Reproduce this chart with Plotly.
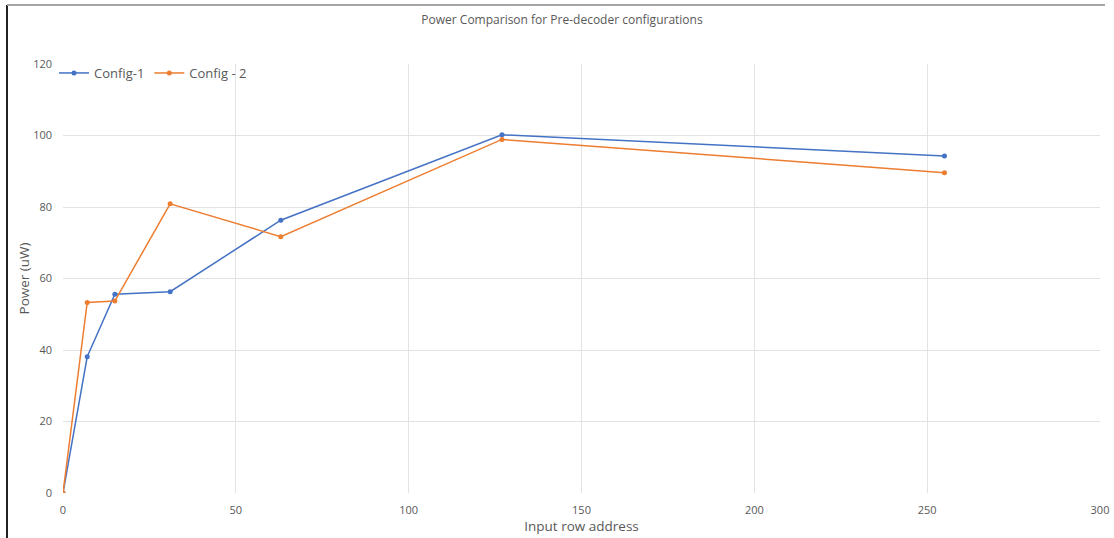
import plotly.graph_objects as go

# Input row address values and measured power (uW)
row_address = [0, 7, 15, 31, 63, 127, 255]
config1_power = [0, 38.1, 55.6, 56.3, 76.3, 100.2, 94.3]
config2_power = [0, 53.3, 53.7, 80.9, 71.7, 98.9, 89.6]

x_ticks = [0, 50, 100, 150, 200, 250, 300]
y_ticks = [0, 20, 40, 60, 80, 100, 120]

W, H = 1114, 538
M_L, M_R, M_T, M_B = 63, 14, 64, 45
FONT = "Open Sans, Calibri, sans-serif"
TEXT_GRAY = "#595959"
GRID = "#e3e3e3"

fig = go.Figure()
fig.add_trace(go.Scatter(
    x=row_address, y=config1_power, name="Config-1",
    mode="lines+markers",
    line=dict(color="#4472C4", width=1.5),
    marker=dict(size=5, color="#4472C4"),
))
fig.add_trace(go.Scatter(
    x=row_address, y=config2_power, name="Config - 2",
    mode="lines+markers",
    line=dict(color="#ED7D31", width=1.5),
    marker=dict(size=5, color="#ED7D31"),
))

pw = W - M_L - M_R
ph = H - M_T - M_B

def px_x(p):
    return (p - M_L) / pw

def px_y(p):
    return (H - M_B - p) / ph

# Outer frame edges: dark left edge and light top edge
fig.add_shape(type="line", xref="paper", yref="paper",
              x0=px_x(7), x1=px_x(7), y0=px_y(5), y1=px_y(540),
              line=dict(color="#222222", width=2))
fig.add_shape(type="line", xref="paper", yref="paper",
              x0=px_x(7), x1=px_x(1105), y0=px_y(5), y1=px_y(5),
              line=dict(color="#a6a6a6", width=2))

fig.update_layout(
    width=W, height=H,
    margin=dict(l=M_L, r=M_R, t=M_T, b=M_B, pad=0, autoexpand=False),
    paper_bgcolor="white", plot_bgcolor="white",
    font=dict(family=FONT, color=TEXT_GRAY, size=11),
    title=dict(text="Power Comparison for Pre-decoder configurations",
               x=562 / W, xref="container", xanchor="center",
               y=1 - 20 / H, yref="container", yanchor="middle",
               font=dict(size=12, color=TEXT_GRAY, family=FONT)),
    showlegend=True,
    legend=dict(orientation="h", x=px_x(54), y=px_y(58), xanchor="left", yanchor="top",
                bgcolor="rgba(255,255,255,0)", itemwidth=30,
                font=dict(size=13, color=TEXT_GRAY, family=FONT),
                tracegroupgap=0),
    xaxis=dict(range=[0, 300], tickvals=x_ticks, showgrid=True, gridcolor=GRID,
               gridwidth=1, zeroline=False, showline=False, ticks="",
               ticklabelstandoff=9, automargin=False,
               tickfont=dict(size=11, color=TEXT_GRAY),
               title=dict(text="Input row address", standoff=4,
                          font=dict(size=13.5, color=TEXT_GRAY))),
    yaxis=dict(range=[0, 120], tickvals=y_ticks, showgrid=True, gridcolor=GRID,
               gridwidth=1, zeroline=False, showline=False, ticks="",
               ticklabelstandoff=10, automargin=False,
               tickfont=dict(size=11, color=TEXT_GRAY),
               title=dict(text="Power (uW)", standoff=0,
                          font=dict(size=13.5, color=TEXT_GRAY))),
)

fig.write_html("out.html")
